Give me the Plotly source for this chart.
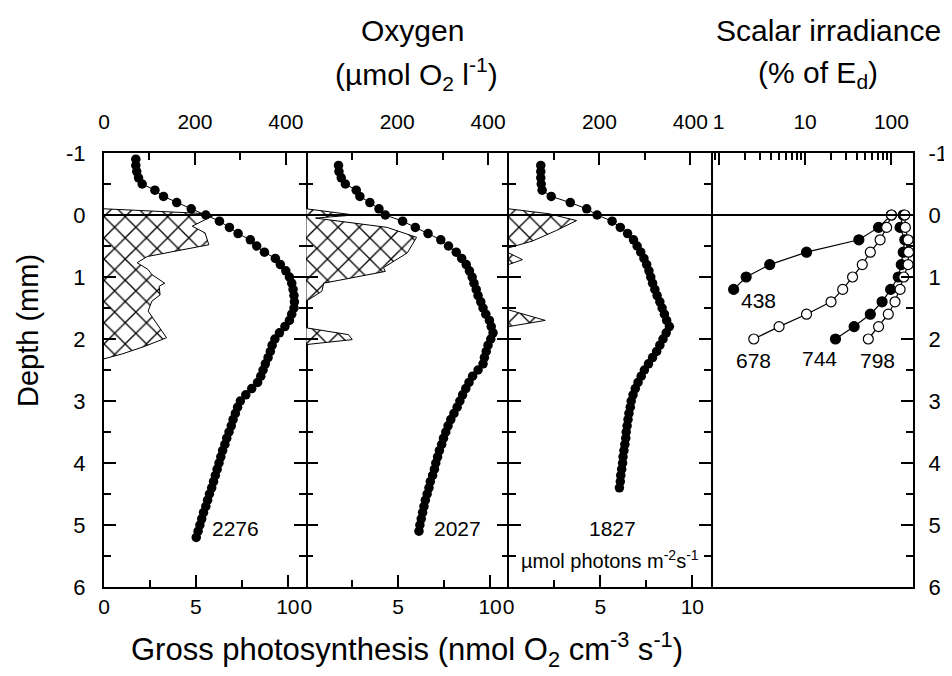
import plotly.graph_objects as go

FONT = "Liberation Sans, Arial, Helvetica, sans-serif"

# ---------------- data ----------------
# Oxygen profiles (umol O2 l-1) vs depth (mm)
depth_2276 = [-0.9, -0.8, -0.7, -0.6, -0.5, -0.4, -0.3, -0.2, -0.1,
              0.0, 0.1, 0.2, 0.3, 0.4, 0.5, 0.6, 0.7, 0.8, 0.9,
              1.0, 1.1, 1.2, 1.3, 1.4, 1.5, 1.6, 1.7, 1.8, 1.9,
              2.0, 2.1, 2.2, 2.3, 2.4, 2.5, 2.6, 2.7, 2.8, 2.9,
              3.0, 3.1, 3.2, 3.3, 3.4, 3.5, 3.6, 3.7, 3.8, 3.9,
              4.0, 4.1, 4.2, 4.3, 4.4, 4.5, 4.6, 4.7, 4.8, 4.9,
              5.0, 5.1, 5.2]
oxygen_2276 = [70, 70, 72, 76, 84, 112, 131, 160, 192,
               224, 254, 276, 295, 322, 336, 353, 377, 388, 400,
               408, 413, 416, 418, 419, 418, 413, 408, 398, 386,
               376, 370, 366, 361, 355, 350, 345, 338, 325, 312,
               300, 294, 289, 284, 280, 275, 270, 266, 261, 257,
               253, 249, 245, 241, 237, 232, 228, 224, 219, 215,
               211, 207, 203]

depth_2027 = [-0.8, -0.7, -0.6, -0.5, -0.4, -0.3, -0.2, -0.1,
              0.0, 0.1, 0.2, 0.3, 0.4, 0.5, 0.6, 0.7, 0.8, 0.9,
              1.0, 1.1, 1.2, 1.3, 1.4, 1.5, 1.6, 1.7, 1.8, 1.9,
              2.0, 2.1, 2.2, 2.3, 2.4, 2.5, 2.6, 2.7, 2.8, 2.9,
              3.0, 3.1, 3.2, 3.3, 3.4, 3.5, 3.6, 3.7, 3.8, 3.9,
              4.0, 4.1, 4.2, 4.3, 4.4, 4.5, 4.6, 4.7, 4.8, 4.9,
              5.0, 5.1]
oxygen_2027 = [71, 72, 77, 86, 110, 118, 140, 160,
               174, 212, 240, 268, 296, 313, 330, 342, 352, 359,
               365, 369, 374, 378, 384, 389, 395, 403, 407, 411,
               406, 400, 396, 392, 389, 378, 366, 358, 351, 344,
               338, 332, 325, 318, 312, 307, 302, 298, 293, 289,
               285, 282, 278, 273, 270, 266, 262, 259, 256, 253,
               250, 248]

depth_1827 = [-0.8, -0.7, -0.6, -0.5, -0.4, -0.3, -0.2, -0.1,
              0.0, 0.1, 0.2, 0.3, 0.4, 0.5, 0.6, 0.7, 0.8, 0.9,
              1.0, 1.1, 1.2, 1.3, 1.4, 1.5, 1.6, 1.7, 1.8, 1.9,
              2.0, 2.1, 2.2, 2.3, 2.4, 2.5, 2.6, 2.7, 2.8, 2.9,
              3.0, 3.1, 3.2, 3.3, 3.4, 3.5, 3.6, 3.7, 3.8, 3.9,
              4.0, 4.1, 4.2, 4.3, 4.4]
oxygen_1827 = [71, 71, 71, 72, 74, 94, 136, 172,
               195, 228, 246, 262, 275, 283, 291, 298, 304, 309,
               313, 317, 322, 327, 333, 338, 343, 348, 354, 347,
               340, 333, 326, 317, 308, 299, 292, 285, 279, 274,
               270, 268, 265, 263, 261, 259, 258, 256, 254, 252,
               251, 249, 247, 246, 244]

# Gross photosynthesis outlines (nmol O2 cm-3 s-1) vs depth (mm)
gp_depth_2276 = [-0.1, -0.03, 0.0, 0.18, 0.29, 0.48, 0.67, 0.77, 0.88, 0.96,
                 1.1, 1.15, 1.29, 1.39, 1.55, 1.77, 1.98, 2.12, 2.24, 2.32]
gp_rate_2276 = [0, 5.0, 6.0, 4.8, 5.5, 5.7, 2.35, 1.8, 2.4, 2.6,
                3.3, 3.0, 3.05, 2.6, 2.4, 2.9, 3.4, 2.2, 1.0, 0]

gp_depth_2027a = [-0.1, -0.02, 0.0, 0.05, 0.2, 0.36, 0.61, 0.85, 0.91, 1.1, 1.23, 1.39]
gp_rate_2027a = [0, 2.0, 2.6, 0.5, 4.4, 6.0, 5.5, 4.2, 4.3, 0.95, 0.85, 0]
gp_depth_2027b = [1.82, 1.93, 2.01, 2.09]
gp_rate_2027b = [0, 2.3, 2.5, 0]

gp_depth_1827a = [-0.1, -0.02, 0.09, 0.25, 0.42, 0.53]
gp_rate_1827a = [0, 2.2, 3.7, 2.6, 1.3, 0]
gp_depth_1827b = [0.61, 0.72, 0.80]
gp_rate_1827b = [0, 0.76, 0]
gp_depth_1827c = [1.53, 1.70, 1.80]
gp_rate_1827c = [0, 2.0, 0]

# Scalar irradiance (% of Ed) vs depth (mm)
irr_depth = [0.0, 0.2, 0.4, 0.6, 0.8, 1.0, 1.2, 1.4, 1.6, 1.8, 2.0]
irr_438 = [100, 71, 42, 10.4, 3.9, 2.08, 1.49]
irr_678 = [100, 88, 74, 57, 46, 35.5, 27.3, 20, 10.4, 5.0, 2.55]
irr_744 = [137, 126, 143, 137, 130, 120, 98, 78, 57, 37, 22.5]
irr_798 = [143, 145, 156, 158, 156, 139, 126, 110, 92, 71, 54]

depth_ticks = [-1, 0, 1, 2, 3, 4, 5, 6]
depth_ticktext = ["-1", "0", "1", "2", "3", "4", "5", "6"]

# ---------------- figure ----------------
fig = go.Figure()

def hatch(x, y, xa, ya):
    fig.add_trace(go.Scatter(
        x=x, y=y, xaxis=xa, yaxis=ya, mode="lines", fill="toself",
        fillcolor="white",
        fillpattern=dict(shape="x", fgcolor="black", bgcolor="white", fgopacity=1,
                         size=15, solidity=0.17),
        line=dict(color="black", width=1), hoverinfo="skip", showlegend=False))

hatch(gp_rate_2276, gp_depth_2276, "x", "y")
hatch(gp_rate_2027a, gp_depth_2027a, "x2", "y2")
hatch(gp_rate_2027b, gp_depth_2027b, "x2", "y2")
hatch(gp_rate_1827a, gp_depth_1827a, "x3", "y3")
hatch(gp_rate_1827b, gp_depth_1827b, "x3", "y3")
hatch(gp_rate_1827c, gp_depth_1827c, "x3", "y3")

for ox, dp, xa, ya in [(oxygen_2276, depth_2276, "x5", "y"),
                       (oxygen_2027, depth_2027, "x6", "y2"),
                       (oxygen_1827, depth_1827, "x7", "y3")]:
    fig.add_trace(go.Scatter(
        x=ox, y=dp, xaxis=xa, yaxis=ya, mode="lines+markers",
        marker=dict(size=9.5, color="black"),
        line=dict(color="black", width=1), showlegend=False))

for vals, filled in [(irr_438, True), (irr_678, False), (irr_744, True), (irr_798, False)]:
    fig.add_trace(go.Scatter(
        x=vals, y=irr_depth[:len(vals)], xaxis="x4", yaxis="y4",
        mode="lines+markers",
        marker=dict(size=10, color="black" if filled else "white",
                    line=dict(color="black", width=1.2)),
        line=dict(color="black", width=1.2), showlegend=False))

axis_common = dict(showline=True, linewidth=2, linecolor="black", ticks="inside",
                   tickwidth=2, tickcolor="black", ticklen=12, showgrid=False,
                   zeroline=False, tickfont=dict(size=21, color="black", family=FONT))

def yax(anchor, labels, side="left", mirror="ticks", line=True):
    d = dict(axis_common)
    d.update(range=[6, -1], domain=[0, 1], anchor=anchor, side=side, mirror=mirror,
             showline=line,
             tickmode="array", tickvals=depth_ticks, ticktext=depth_ticktext,
             showticklabels=labels, ticklabelstandoff=12 if side == "left" else 9,
             tickfont=dict(size=22, color="black", family=FONT),
             minor=dict(ticks="inside", ticklen=7, tickwidth=2, tickcolor="black",
                        tickmode="array", tickvals=[-0.5, 0.5, 1.5, 2.5, 3.5, 4.5, 5.5]))
    return d

def xbottom(dom, anchor):
    d = dict(axis_common)
    d.update(domain=dom, anchor=anchor, range=[0, 11], side="bottom",
             tickmode="array", tickvals=[0, 5, 10], ticktext=["0", "5", "10"],
             ticklabelstandoff=0,
             minor=dict(ticks="inside", ticklen=7, tickwidth=2, tickcolor="black",
                        tickmode="array", tickvals=[2.5, 7.5]))
    return d

def xtop(dom, anchor, over, first):
    d = dict(axis_common)
    d.update(domain=dom, anchor=anchor, overlaying=over, range=[0, 445], side="top",
             tickmode="array", tickvals=[0, 200, 400],
             ticktext=["0" if first else "", "200", "400"],
             ticklabelstandoff=14,
             minor=dict(ticks="inside", ticklen=7, tickwidth=2, tickcolor="black",
                        tickmode="array", tickvals=[100, 300]))
    return d

log_minor = [0.9, 2, 3, 4, 5, 6, 7, 8, 9, 20, 30, 40, 50, 60, 70, 80, 90]
x4 = dict(axis_common)
x4.update(domain=[0.75, 1.0], anchor="y4", type="log", range=[-0.092, 2.25], side="top",
          mirror=True, tickmode="array", tickvals=[1, 10, 100], ticktext=["1", "10", "100"],
          ticklabelstandoff=14,
          minor=dict(ticks="inside", ticklen=7, tickwidth=2, tickcolor="black",
                     tickmode="array", tickvals=log_minor))

fig.update_layout(
    width=952, height=676,
    margin=dict(l=96, r=32, t=145, b=97),
    paper_bgcolor="white", plot_bgcolor="rgba(0,0,0,0)",
    font=dict(family=FONT, color="black"),
    showlegend=False,
    xaxis=xbottom([0, 0.25], "y"),
    xaxis2=xbottom([0.25, 0.5], "y2"),
    xaxis3=xbottom([0.5, 0.75], "y3"),
    xaxis4=x4,
    xaxis5=xtop([0, 0.25], "y", "x", True),
    xaxis6=xtop([0.25, 0.5], "y2", "x2", False),
    xaxis7=xtop([0.5, 0.75], "y3", "x3", False),
    yaxis=yax("x", True),
    yaxis2=yax("x2", False, line=False),
    yaxis3=yax("x3", False),
    yaxis4=yax("x4", True, side="right", mirror=False),
)

fig.add_shape(type="line", xref="paper", yref="y", x0=0, x1=1, y0=0, y1=0,
              line=dict(color="black", width=2))

def ann(text, x, y, xref="paper", yref="paper", size=30, angle=0):
    fig.add_annotation(text=text, x=x, y=y, xref=xref, yref=yref, showarrow=False,
                       textangle=angle, xanchor="center", yanchor="middle",
                       font=dict(size=size, color="black", family=FONT))

ann("Depth (mm)", -0.094, 0.592, angle=-90, size=29)
ann("Gross photosynthesis (nmol O<sub>2</sub> cm<sup>-3</sup> s<sup>-1</sup>)", 0.374, -0.145, size=31)
ann("Oxygen", 0.381, 1.282, size=30)
ann("(µmol O<sub>2</sub> l<sup>-1</sup>)", 0.386, 1.182, size=30)
ann("Scalar irradiance", 0.895, 1.282, size=30)
ann("(% of E<sub>d</sub>)", 0.882, 1.182, size=30)

ann("2276", 7.15, 5.05, xref="x", yref="y", size=21)
ann("2027", 8.2, 5.05, xref="x2", yref="y2", size=21)
ann("1827", 5.66, 5.05, xref="x3", yref="y3", size=21)
ann("µmol photons m<sup>-2</sup>s<sup>-1</sup>", 5.5, 5.55, xref="x3", yref="y3", size=20)
ann("438", 0.466, 1.38, xref="x4", yref="y4", size=21)
ann("678", 0.40, 2.34, xref="x4", yref="y4", size=21)
ann("744", 1.17, 2.31, xref="x4", yref="y4", size=21)
ann("798", 1.84, 2.35, xref="x4", yref="y4", size=21)

fig.write_html("out.html")
